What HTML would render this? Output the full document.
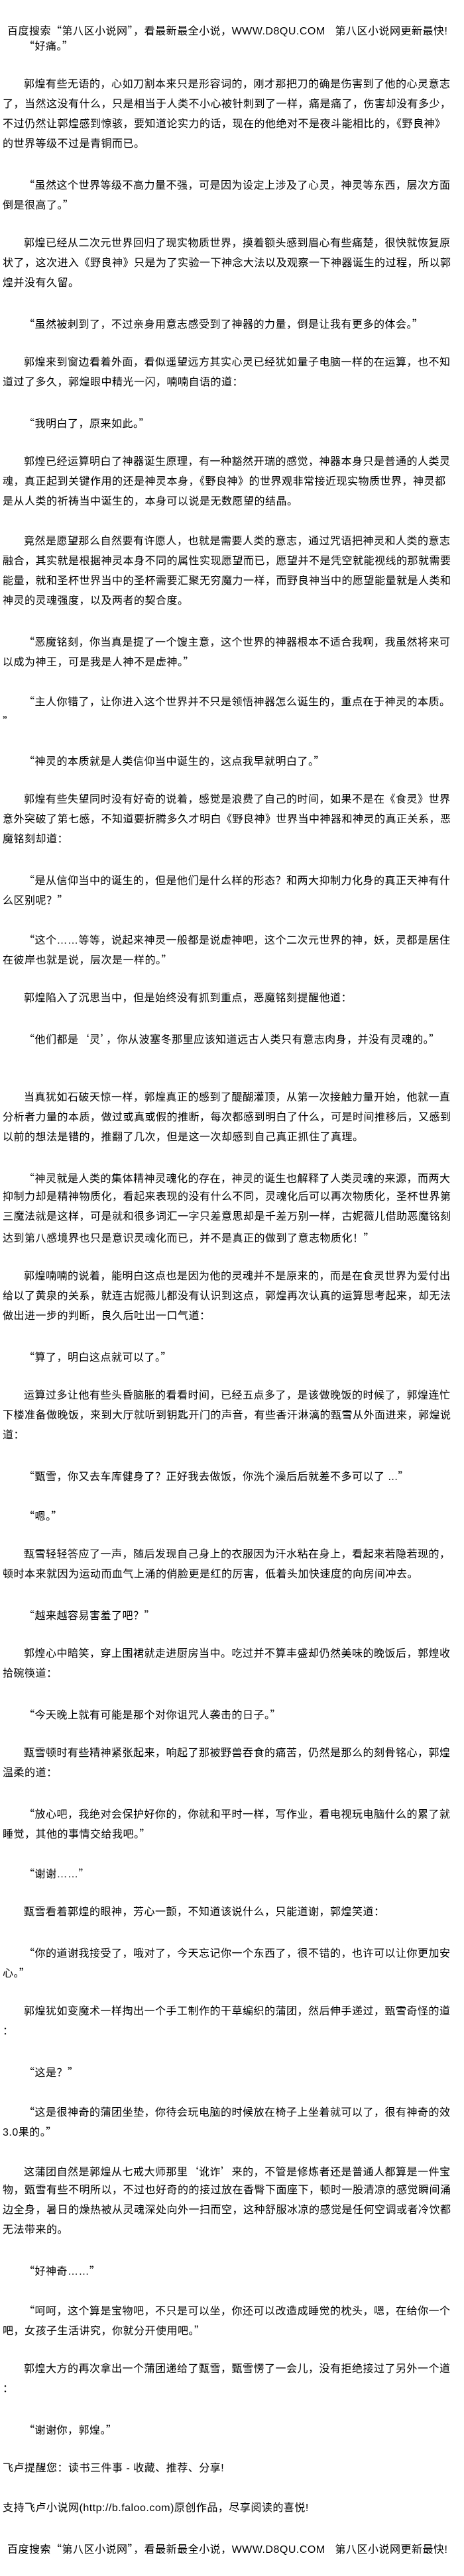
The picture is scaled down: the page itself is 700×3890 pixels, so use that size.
<!DOCTYPE html>
<html><head><meta charset="utf-8">
<style>
html,body{margin:0;padding:0;background:#fff;}
body{width:700px;height:3890px;position:relative;overflow:hidden;
font-family:"Liberation Sans","Noto Sans CJK SC",sans-serif;font-size:16px;color:#000;letter-spacing:0.5px;}
.l{position:absolute;left:4px;height:30px;line-height:30px;white-space:nowrap;}
.i{left:36px;}
.h{left:11px;}
.q{font-family:"Noto Sans CJK SC",sans-serif;}
</style></head><body>
<div class="l h" style="top:33px;line-height:24px;height:24px">百度搜索<span class="q">“</span>第八区小说网<span class="q">”</span>，看最新最全小说，WWW.D8QU.COM&nbsp;&nbsp; 第八区小说网更新最快!</div>
<div class="l i" style="top:53px"><span class="q">“</span>好痛。<span class="q">”</span></div>

<div class="l i" style="top:113px">郭煌有些无语的，心如刀割本来只是形容词的，刚才那把刀的确是伤害到了他的心灵意志</div>
<div class="l" style="top:143px">了，当然这没有什么，只是相当于人类不小心被针刺到了一样，痛是痛了，伤害却没有多少，</div>
<div class="l" style="top:173px">不过仍然让郭煌感到惊骇，要知道论实力的话，现在的他绝对不是夜斗能相比的，《野良神》</div>
<div class="l" style="top:203px">的世界等级不过是青铜而已。</div>

<div class="l i" style="top:263px"><span class="q">“</span>虽然这个世界等级不高力量不强，可是因为设定上涉及了心灵，神灵等东西，层次方面</div>
<div class="l" style="top:293px">倒是很高了。<span class="q">”</span></div>

<div class="l i" style="top:353px">郭煌已经从二次元世界回归了现实物质世界，摸着额头感到眉心有些痛楚，很快就恢复原</div>
<div class="l" style="top:383px">状了，这次进入《野良神》只是为了实验一下神念大法以及观察一下神器诞生的过程，所以郭</div>
<div class="l" style="top:413px">煌并没有久留。</div>

<div class="l i" style="top:473px"><span class="q">“</span>虽然被刺到了，不过亲身用意志感受到了神器的力量，倒是让我有更多的体会。<span class="q">”</span></div>

<div class="l i" style="top:533px">郭煌来到窗边看着外面，看似遥望远方其实心灵已经犹如量子电脑一样的在运算，也不知</div>
<div class="l" style="top:563px">道过了多久，郭煌眼中精光一闪，喃喃自语的道：</div>

<div class="l i" style="top:623px"><span class="q">“</span>我明白了，原来如此。<span class="q">”</span></div>

<div class="l i" style="top:683px">郭煌已经运算明白了神器诞生原理，有一种豁然开瑞的感觉，神器本身只是普通的人类灵</div>
<div class="l" style="top:713px">魂，真正起到关键作用的还是神灵本身，《野良神》的世界观非常接近现实物质世界，神灵都</div>
<div class="l" style="top:743px">是从人类的祈祷当中诞生的，本身可以说是无数愿望的结晶。</div>

<div class="l i" style="top:803px">竟然是愿望那么自然要有许愿人，也就是需要人类的意志，通过咒语把神灵和人类的意志</div>
<div class="l" style="top:833px">融合，其实就是根据神灵本身不同的属性实现愿望而已，愿望并不是凭空就能视线的那就需要</div>
<div class="l" style="top:863px">能量，就和圣杯世界当中的圣杯需要汇聚无穷魔力一样，而野良神当中的愿望能量就是人类和</div>
<div class="l" style="top:893px">神灵的灵魂强度，以及两者的契合度。</div>

<div class="l i" style="top:953px"><span class="q">“</span>恶魔铭刻，你当真是提了一个馊主意，这个世界的神器根本不适合我啊，我虽然将来可</div>
<div class="l" style="top:983px">以成为神王，可是我是人神不是虚神。<span class="q">”</span></div>

<div class="l i" style="top:1043px"><span class="q">“</span>主人你错了，让你进入这个世界并不只是领悟神器怎么诞生的，重点在于神灵的本质。</div>
<div class="l" style="top:1073px"><span class="q">”</span></div>

<div class="l i" style="top:1133px"><span class="q">“</span>神灵的本质就是人类信仰当中诞生的，这点我早就明白了。<span class="q">”</span></div>

<div class="l i" style="top:1193px">郭煌有些失望同时没有好奇的说着，感觉是浪费了自己的时间，如果不是在《食灵》世界</div>
<div class="l" style="top:1223px">意外突破了第七感，不知道要折腾多久才明白《野良神》世界当中神器和神灵的真正关系，恶</div>
<div class="l" style="top:1253px">魔铭刻却道：</div>

<div class="l i" style="top:1313px"><span class="q">“</span>是从信仰当中的诞生的，但是他们是什么样的形态？和两大抑制力化身的真正天神有什</div>
<div class="l" style="top:1343px">么区别呢？<span class="q">”</span></div>

<div class="l i" style="top:1403px"><span class="q">“</span>这个……等等，说起来神灵一般都是说虚神吧，这个二次元世界的神，妖，灵都是居住</div>
<div class="l" style="top:1433px">在彼岸也就是说，层次是一样的。<span class="q">”</span></div>

<div class="l i" style="top:1493px">郭煌陷入了沉思当中，但是始终没有抓到重点，恶魔铭刻提醒他道：</div>

<div class="l i" style="top:1553px"><span class="q">“</span>他们都是<span class="q">‘</span>灵<span class="q">’</span>，你从波塞冬那里应该知道远古人类只有意志肉身，并没有灵魂的。<span class="q">”</span></div>

<div class="l i" style="top:1643px">当真犹如石破天惊一样，郭煌真正的感到了醍醐灌顶，从第一次接触力量开始，他就一直</div>
<div class="l" style="top:1673px">分析者力量的本质，做过或真或假的推断，每次都感到明白了什么，可是时间推移后，又感到</div>
<div class="l" style="top:1703px">以前的想法是错的，推翻了几次，但是这一次却感到自己真正抓住了真理。</div>

<div class="l i" style="top:1763px"><span class="q">“</span>神灵就是人类的集体精神灵魂化的存在，神灵的诞生也解释了人类灵魂的来源，而两大</div>
<div class="l" style="top:1793px">抑制力却是精神物质化，看起来表现的没有什么不同，灵魂化后可以再次物质化，圣杯世界第</div>
<div class="l" style="top:1823px">三魔法就是这样，可是就和很多词汇一字只差意思却是千差万别一样，古妮薇儿借助恶魔铭刻</div>
<div class="l" style="top:1853px">达到第八感境界也只是意识灵魂化而已，并不是真正的做到了意志物质化！<span class="q">”</span></div>

<div class="l i" style="top:1913px">郭煌喃喃的说着，能明白这点也是因为他的灵魂并不是原来的，而是在食灵世界为爱付出</div>
<div class="l" style="top:1943px">给以了黄泉的关系，就连古妮薇儿都没有认识到这点，郭煌再次认真的运算思考起来，却无法</div>
<div class="l" style="top:1973px">做出进一步的判断，良久后吐出一口气道：</div>

<div class="l i" style="top:2033px"><span class="q">“</span>算了，明白这点就可以了。<span class="q">”</span></div>

<div class="l i" style="top:2093px">运算过多让他有些头昏脑胀的看看时间，已经五点多了，是该做晚饭的时候了，郭煌连忙</div>
<div class="l" style="top:2123px">下楼准备做晚饭，来到大厅就听到钥匙开门的声音，有些香汗淋漓的甄雪从外面进来，郭煌说</div>
<div class="l" style="top:2153px">道：</div>

<div class="l i" style="top:2213px"><span class="q">“</span>甄雪，你又去车库健身了？正好我去做饭，你洗个澡后后就差不多可以了&nbsp;...<span class="q">”</span></div>

<div class="l i" style="top:2273px"><span class="q">“</span>嗯。<span class="q">”</span></div>

<div class="l i" style="top:2333px">甄雪轻轻答应了一声，随后发现自己身上的衣服因为汗水粘在身上，看起来若隐若现的，</div>
<div class="l" style="top:2363px">顿时本来就因为运动而血气上涌的俏脸更是红的厉害，低着头加快速度的向房间冲去。</div>

<div class="l i" style="top:2423px"><span class="q">“</span>越来越容易害羞了吧？<span class="q">”</span></div>

<div class="l i" style="top:2483px">郭煌心中暗笑，穿上围裙就走进厨房当中。吃过并不算丰盛却仍然美味的晚饭后，郭煌收</div>
<div class="l" style="top:2513px">拾碗筷道：</div>

<div class="l i" style="top:2573px"><span class="q">“</span>今天晚上就有可能是那个对你诅咒人袭击的日子。<span class="q">”</span></div>

<div class="l i" style="top:2633px">甄雪顿时有些精神紧张起来，响起了那被野兽吞食的痛苦，仍然是那么的刻骨铭心，郭煌</div>
<div class="l" style="top:2663px">温柔的道：</div>

<div class="l i" style="top:2723px"><span class="q">“</span>放心吧，我绝对会保护好你的，你就和平时一样，写作业，看电视玩电脑什么的累了就</div>
<div class="l" style="top:2753px">睡觉，其他的事情交给我吧。<span class="q">”</span></div>

<div class="l i" style="top:2813px"><span class="q">“</span>谢谢……<span class="q">”</span></div>

<div class="l i" style="top:2873px">甄雪看着郭煌的眼神，芳心一颤，不知道该说什么，只能道谢，郭煌笑道：</div>

<div class="l i" style="top:2933px"><span class="q">“</span>你的道谢我接受了，哦对了，今天忘记你一个东西了，很不错的，也许可以让你更加安</div>
<div class="l" style="top:2963px">心。<span class="q">”</span></div>

<div class="l i" style="top:3023px">郭煌犹如变魔术一样掏出一个手工制作的干草编织的蒲团，然后伸手递过，甄雪奇怪的道</div>
<div class="l" style="top:3053px">：</div>

<div class="l i" style="top:3113px"><span class="q">“</span>这是？<span class="q">”</span></div>

<div class="l i" style="top:3173px"><span class="q">“</span>这是很神奇的蒲团坐垫，你待会玩电脑的时候放在椅子上坐着就可以了，很有神奇的效</div>
<div class="l" style="top:3203px">3.0果的。<span class="q">”</span></div>

<div class="l i" style="top:3263px">这蒲团自然是郭煌从七戒大师那里<span class="q">‘</span>讹诈<span class="q">’</span>来的，不管是修炼者还是普通人都算是一件宝</div>
<div class="l" style="top:3293px">物，甄雪有些不明所以，不过也好奇的的接过放在香臀下面座下，顿时一股清凉的感觉瞬间涌</div>
<div class="l" style="top:3323px">边全身，暑日的燥热被从灵魂深处向外一扫而空，这种舒服冰凉的感觉是任何空调或者冷饮都</div>
<div class="l" style="top:3353px">无法带来的。</div>

<div class="l i" style="top:3413px"><span class="q">“</span>好神奇……<span class="q">”</span></div>

<div class="l i" style="top:3473px"><span class="q">“</span>呵呵，这个算是宝物吧，不只是可以坐，你还可以改造成睡觉的枕头，嗯，在给你一个</div>
<div class="l" style="top:3503px">吧，女孩子生活讲究，你就分开使用吧。<span class="q">”</span></div>

<div class="l i" style="top:3563px">郭煌大方的再次拿出一个蒲团递给了甄雪，甄雪愣了一会儿，没有拒绝接过了另外一个道</div>
<div class="l" style="top:3593px">：</div>

<div class="l i" style="top:3653px"><span class="q">“</span>谢谢你，郭煌。<span class="q">”</span></div>

<div class="l" style="top:3713px">飞卢提醒您：读书三件事 - 收藏、推荐、分享!</div>

<div class="l" style="top:3773px">支持飞卢小说网(http://b.faloo.com)原创作品，尽享阅读的喜悦!</div>

<div class="l h" style="top:3833px">百度搜索<span class="q">“</span>第八区小说网<span class="q">”</span>，看最新最全小说，WWW.D8QU.COM&nbsp;&nbsp; 第八区小说网更新最快!</div>
</body></html>
